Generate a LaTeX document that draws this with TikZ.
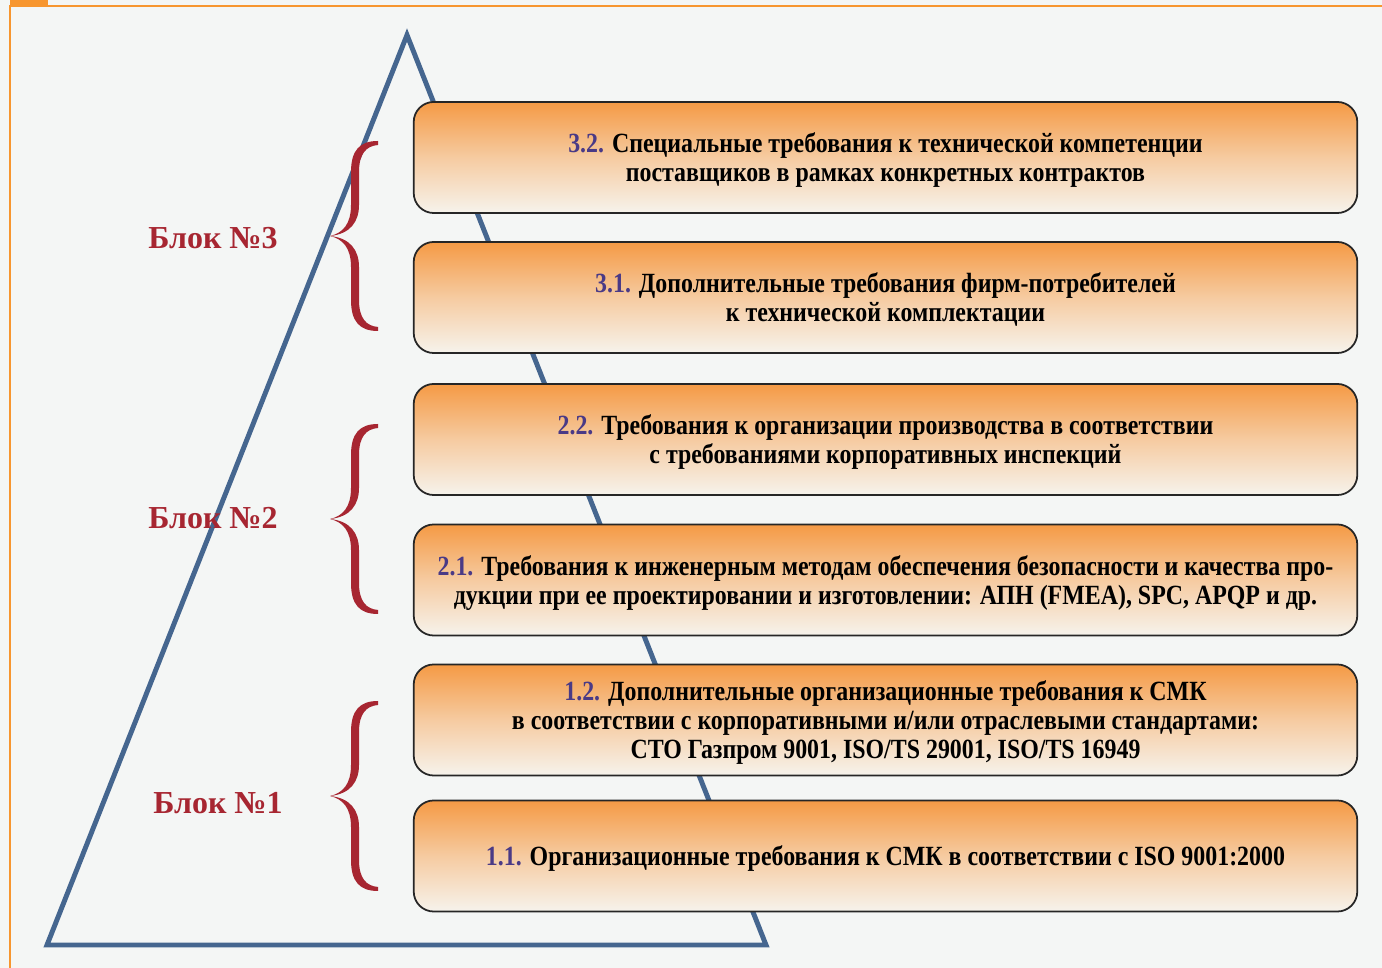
\documentclass[tikz,border=0pt]{standalone}
\usepackage{fontspec}
\setmainfont{Liberation Serif}
\newfontfamily\boxfont[FakeStretch=0.86]{Liberation Serif}
\definecolor{bgcol}{HTML}{F4F6F5}
\definecolor{framecol}{HTML}{F7962F}
\definecolor{tricol}{HTML}{45668F}
\definecolor{bracecol}{HTML}{A72631}
\definecolor{numcol}{HTML}{4A3A86}
\definecolor{boxtop}{HTML}{F59A45}
\definecolor{boxbot}{HTML}{F6F3EC}
\newcommand{\nr}[1]{\textcolor{numcol}{#1}}
\tikzset{
  curlybrace/.pic={
    \fill[bracecol] (48,-95) .. controls (30,-95) and (21,-86) .. (21,-64)
      -- (21,-31) .. controls (21,-12) and (13,-3) .. (0,0)
      .. controls (13,3) and (21,12) .. (21,31) -- (21,64)
      .. controls (21,86) and (30,95) .. (48,95) -- (48,91)
      .. controls (36,90) and (29,82) .. (29,64) -- (29,31)
      .. controls (29,14) and (20,2) .. (0,0)
      .. controls (20,-2) and (29,-14) .. (29,-31) -- (29,-64)
      .. controls (29,-82) and (36,-90) .. (48,-91) -- cycle;
  }
}

\begin{document}
\begin{tikzpicture}[x=0.01cm, y=-0.01cm,
  reqbox/.style={draw=black!85, line width=0.5pt, rounded corners=0.2cm,
    minimum width=9.43cm, minimum height=1.11cm, align=center, text depth=0pt,
    top color=boxtop, bottom color=boxbot, middle color=boxtop!45!boxbot,
    font=\boxfont\bfseries\fontsize{7.9}{8.25}\selectfont},
  blok/.style={text=bracecol, font=\bfseries\fontsize{9.1}{10}\selectfont}]
  \useasboundingbox (0,0) rectangle (1382,968);
  \fill[bgcol] (0,0) rectangle (1382,968);
  % frame
  \fill[framecol] (10,0) rectangle (48,5);
  \draw[framecol, line width=0.6pt] (1382,6) -- (10,6) -- (10,968);
  % pyramid
  \draw[tricol, line width=1.4pt] (407,35) -- (766,945) -- (47,945) -- cycle;
  % requirement boxes
  \node[reqbox] (r32) at (885.5,157.5) {\nr{3.2.} Специальные требования к технической компетенции\\ поставщиков в рамках конкретных контрактов};
  \node[reqbox] (r31) at (885.5,297.5) {\nr{3.1.} Дополнительные требования фирм-потребителей\\ к технической комплектации};
  \node[reqbox] (r22) at (885.5,439.5) {\nr{2.2.} Требования к организации производства в соответствии\\ с требованиями корпоративных инспекций};
  \node[reqbox] (r21) at (885.5,580) {\nr{2.1.} Требования к инженерным методам обеспечения безопасности и качества про-\\ дукции при ее проектировании и изготовлении: АПН (FMEA), SPC, APQP и др.};
  \node[reqbox] (r12) at (885.5,720) {\nr{1.2.} Дополнительные организационные требования к СМК\\ в соответствии с корпоративными и/или отраслевыми стандартами:\\ СТО Газпром 9001, ISO/TS 29001, ISO/TS 16949};
  \node[reqbox] (r11) at (885.5,856) {\nr{1.1.} Организационные требования к СМК в соответствии с ISO 9001:2000};
  % braces and block names
  \pic (c3) at (330,236) {curlybrace};
  \pic (c2) at (330,519) {curlybrace};
  \pic (c1) at (330,796) {curlybrace};
  \node[blok] (b3) at (213,238) {Блок №3};
  \node[blok] (b2) at (213,518) {Блок №2};
  \node[blok] (b1) at (218,803) {Блок №1};
\end{tikzpicture}
\end{document}
